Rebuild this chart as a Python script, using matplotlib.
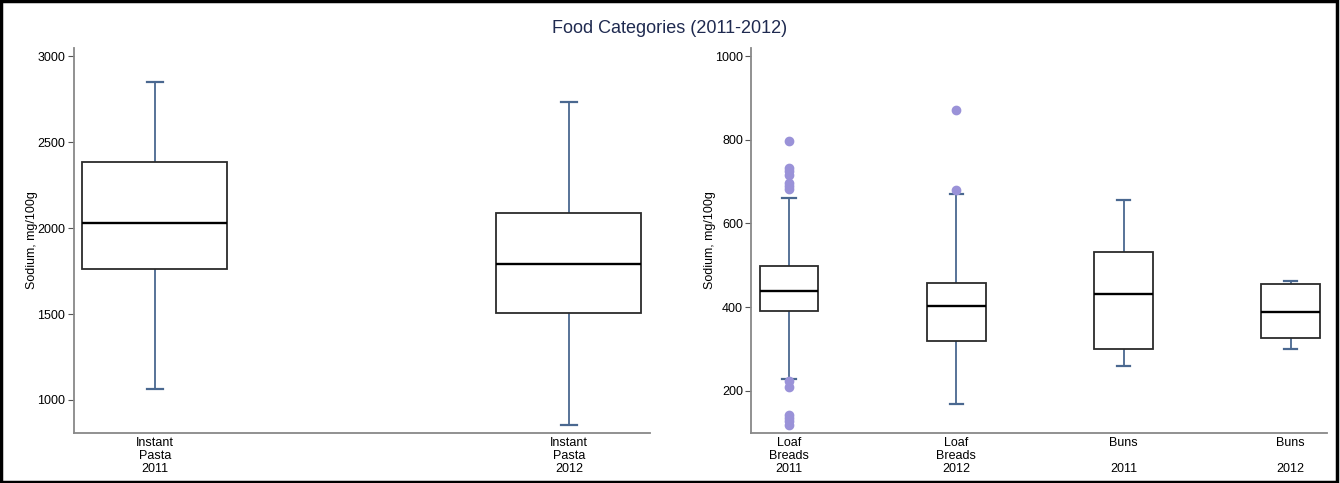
import matplotlib.pyplot as plt
from matplotlib.patches import Rectangle

plt.rcParams['font.family'] = ['Liberation Sans', 'DejaVu Sans']

# left panel: instant pasta
pasta_labels = ['Instant\nPasta\n2011', 'Instant\nPasta\n2012']
pasta_whislo = [1064, 853]
pasta_q1 = [1762, 1504]
pasta_med = [2027, 1789]
pasta_q3 = [2386, 2085]
pasta_whishi = [2849, 2731]

# right panel: loaf breads and buns
bread_labels = ['Loaf\nBreads\n2011', 'Loaf\nBreads\n2012', 'Buns\n\n2011', 'Buns\n\n2012']
bread_whislo = [229, 168, 260, 300]
bread_q1 = [390, 319, 300, 326]
bread_med = [438, 403, 432, 389]
bread_q3 = [499, 458, 531, 454]
bread_whishi = [660, 670, 656, 463]
bread_fliers = [
    [798, 732, 724, 716, 697, 690, 682, 224, 210, 143, 135, 127, 119],
    [870, 679],
    [],
    [],
]

BOX_EDGE = '#2b2b2b'
WHISK = '#4a6890'
FLIER = '#9a92d8'
SPINE = '#888888'


def make_stats(labels, lo, q1, med, q3, hi, fliers=None):
    stats = []
    for i in range(len(labels)):
        stats.append(dict(label=labels[i], whislo=lo[i], q1=q1[i], med=med[i],
                          q3=q3[i], whishi=hi[i],
                          fliers=fliers[i] if fliers else []))
    return stats


def draw(ax, stats, capw):
    ax.bxp(stats, positions=range(len(stats)), widths=0.35, capwidths=capw,
           showfliers=True, patch_artist=True,
           boxprops=dict(facecolor='white', edgecolor=BOX_EDGE, linewidth=1.3, zorder=3),
           medianprops=dict(color='black', linewidth=1.7, zorder=4),
           whiskerprops=dict(color=WHISK, linewidth=1.3, zorder=2),
           capprops=dict(color=WHISK, linewidth=1.6, zorder=2),
           flierprops=dict(marker='o', markerfacecolor=FLIER, markeredgecolor=FLIER,
                           markersize=6, zorder=5))
    for s in ['top', 'right']:
        ax.spines[s].set_visible(False)
    for s in ['left', 'bottom']:
        ax.spines[s].set_color(SPINE)
        ax.spines[s].set_linewidth(1.3)
    ax.tick_params(axis='x', length=0, labelsize=9, pad=3)
    ax.tick_params(axis='y', length=4, color='#555555', labelsize=9, pad=2)
    for t in ax.get_xticklabels():
        t.set_linespacing(1.12)
    ax.set_ylabel('Sodium, mg/100g', fontsize=9)


fig = plt.figure(figsize=(13.4, 4.83), dpi=100)
fig.patches.append(Rectangle((0.001, 0.002), 0.997, 0.995, transform=fig.transFigure,
                             fill=False, edgecolor='black', linewidth=2.5))

ax1 = fig.add_axes([0.055, 0.1035, 0.4298, 0.797])
draw(ax1, make_stats(pasta_labels, pasta_whislo, pasta_q1, pasta_med, pasta_q3, pasta_whishi), 0.04)
ax1.set_xlim(-0.196, 1.195)
ax1.set_ylim(808, 3047)
ax1.set_yticks([1000, 1500, 2000, 2500, 3000])
ax1.yaxis.set_label_coords(-0.062, 0.5)

ax2 = fig.add_axes([0.5608, 0.1035, 0.4295, 0.797])
draw(ax2, make_stats(bread_labels, bread_whislo, bread_q1, bread_med, bread_q3, bread_whishi,
                     bread_fliers), 0.08)
ax2.set_xlim(-0.225, 3.217)
ax2.set_ylim(99, 1019)
ax2.set_yticks([200, 400, 600, 800, 1000])
ax2.yaxis.set_label_coords(-0.062, 0.5)

fig.text(0.5, 0.94, 'Food Categories (2011-2012)', ha='center', va='center',
         fontsize=13, color='#1f2a50')

fig.savefig('out.png', dpi=100)
